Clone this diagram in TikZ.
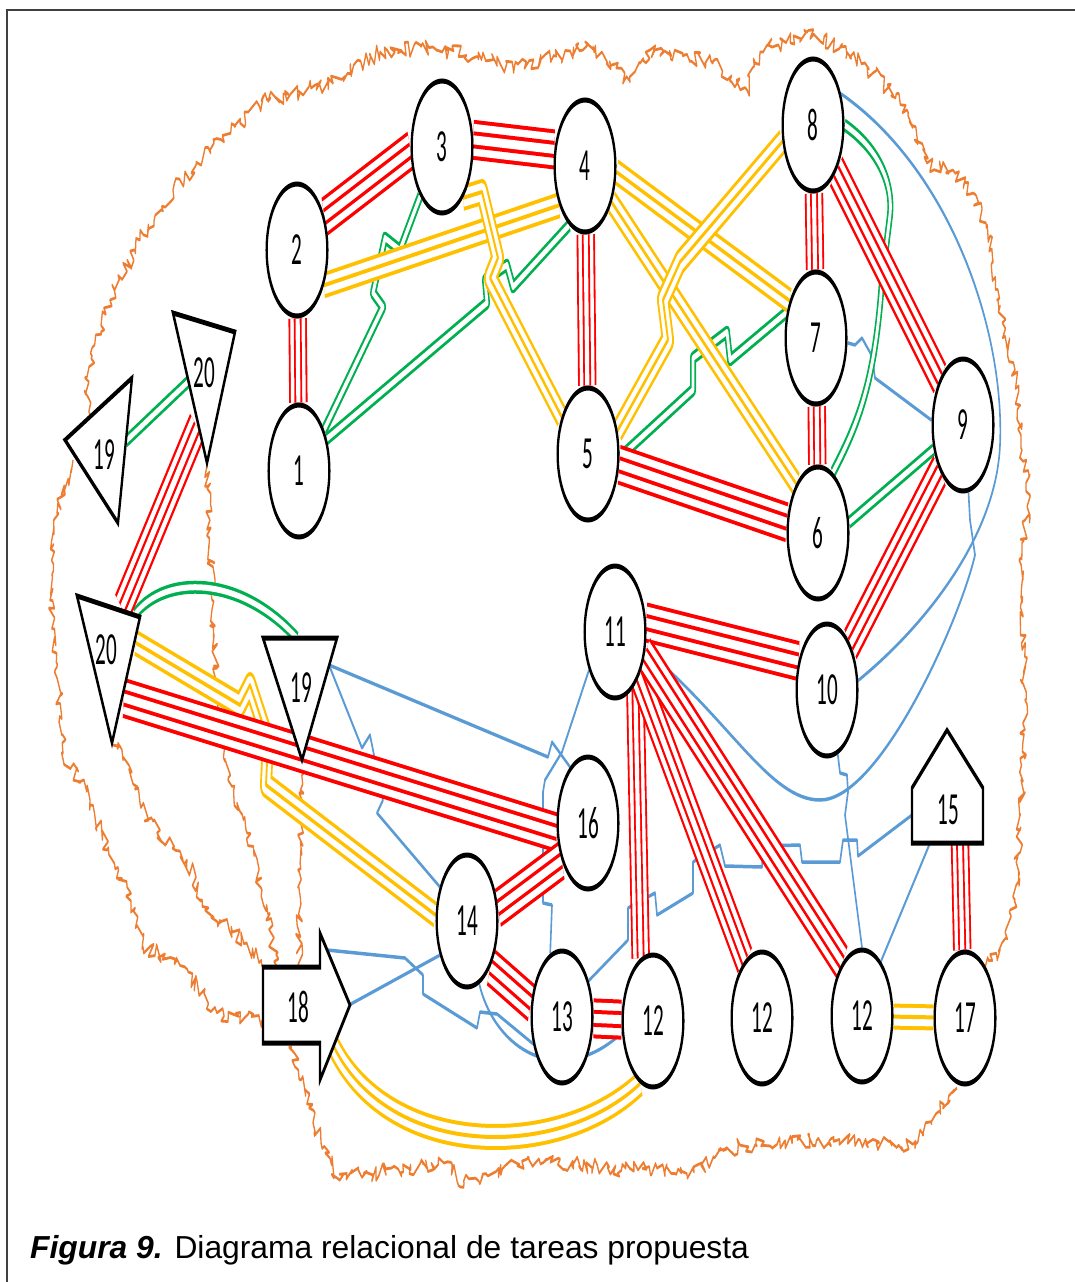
\documentclass[tikz,border=0pt]{standalone}
\usepackage{fontspec}
\newfontfamily\numfont{Carlito}
\newfontfamily\capfont{Liberation Sans}
\usetikzlibrary{backgrounds,decorations.pathmorphing}
\definecolor{cRed}{RGB}{255,0,0}
\definecolor{cYel}{RGB}{255,192,0}
\definecolor{cGrn}{RGB}{0,176,80}
\definecolor{cBlu}{RGB}{91,155,213}
\definecolor{cOrg}{RGB}{237,125,49}
\tikzset{
  nd/.style={circle,draw=black,line width=5pt,fill=white,minimum size=132pt,inner sep=0pt,
    font={\numfont\fontsize{46}{46}\selectfont}},
  lbl/.style={inner sep=0pt,font={\numfont\fontsize{46}{46}\selectfont}},
  shp/.style={draw=black,fill=white,line width=5pt,line join=miter},
  relA/.style={draw=cRed,line width=40pt,line join=round,
    postaction={draw=white,line width=32pt},
    postaction={draw=cRed,line width=17pt},
    postaction={draw=white,line width=9pt}},
  relI/.style={draw=cYel,line width=26pt,line join=round,
    postaction={draw=white,line width=18pt},
    postaction={draw=cYel,line width=4pt}},
  relO/.style={draw=cGrn,line width=13pt,line join=round,
    postaction={draw=white,line width=6pt}},
  relU/.style={draw=cBlu,line width=3.5pt,line join=round},
  orng/.style={draw=cOrg,line width=2.8pt,line join=round,decorate,
    decoration={random steps,segment length=5pt,amplitude=8pt}},
  sq/.style={transform canvas={xscale=0.46},x=2.173913pt}
}
\begin{document}
\begin{tikzpicture}[x=1pt,y=-1pt]
\pgfmathsetseed{7}
\useasboundingbox (0,0) rectangle (1075,1282);
\draw[line width=1.3pt,black!75] (7,1282) -- (7,10) -- (1075,10);
\node[anchor=base west,inner sep=0pt] (cap) at (30,1258)
  {\capfont\fontsize{31.8}{36}\selectfont\textbf{\textit{Figura 9.}} Diagrama relacional de tareas propuesta};

\begin{scope}[sq]
  \node[nd] (n1) at (299,471) {1};
  \node[nd] (n2) at (297,250) {2};
  \node[nd] (n3) at (442,147) {3};
  \node[nd] (n4) at (585,166) {4};
  \node[nd] (n5) at (588,454) {5};
  \node[nd] (n6) at (818,533) {6};
  \node[nd] (n7) at (816,338) {7};
  \node[nd] (n8) at (813,125) {8};
  \node[nd] (n9) at (963,425) {9};
  \node[nd] (n10) at (827,690) {10};
  \node[nd] (n11) at (615,632) {11};
  \node[nd] (n16) at (588,823) {16};
  \node[nd] (n14) at (467,921) {14};
  \node[nd] (n13) at (562,1017) {13};
  \node[nd] (n12a) at (653,1021) {12};
  \node[nd] (n12b) at (762,1018) {12};
  \node[nd] (n12c) at (862,1016) {12};
  \node[nd] (n17) at (965,1018) {17};
  % shapes
  \filldraw[shp] (65,440) -- (132,378) -- (118,523) -- cycle;
  \node[lbl] (t19a) at (104,455) {19};
  \filldraw[shp] (173,313) -- (235,332) -- (207,463) -- cycle;
  \node[lbl] (t20a) at (204,373) {20};
  \filldraw[shp] (77,596) -- (140,617) -- (112,743) -- cycle;
  \node[lbl] (t20b) at (106,650) {20};
  \filldraw[shp] (263,638) -- (337,638) -- (302,760) -- cycle;
  \node[lbl] (t19b) at (301,688) {19};
  \filldraw[shp] (912,788) -- (947,730) -- (983,788) -- (983,843) -- (912,843) -- cycle;
  \node[lbl] (t15) at (948,810) {15};
  \filldraw[shp] (263,967) -- (320,967) -- (320,933) -- (350,1005) -- (320,1080) -- (320,1043) -- (263,1043) -- cycle;
  \node[lbl] (t18) at (298,1007) {18};
  % connection points on the drawn shapes
  \coordinate (c19a-g) at (126,441);
  \coordinate (c20a-g) at (188,382);
  \coordinate (c20a-r) at (197,427);
  \coordinate (c20b-r) at (122,608);
  \coordinate (c20b-g) at (135,614);
  \coordinate (c19b-g) at (297,638);
  \coordinate (c20b-y) at (136,643);
  \coordinate (c20b-rr) at (124,698);
  \coordinate (c19b-b) at (329,665);
  \coordinate (c18-tip) at (349,1005);
  \coordinate (c18-top) at (327,950);
  \coordinate (c18-y) at (334,1047);
  \coordinate (c15-l) at (912,815);
  \coordinate (c15-b) at (930,843);
  \coordinate (c15-r) at (960,843);
\end{scope}

\begin{pgfonlayer}{background}
\begin{scope}[sq]
  % orange boundary
  \draw[orng] (90,415) -- (87,377) -- (110,300) -- (140,240) -- (173,190) -- (210,150) -- (240,123) -- (267,100) -- (333,83) -- (380,52) -- (433,47) -- (513,67) -- (593,47) -- (630,82) -- (650,50) -- (713,63) -- (747,90) -- (760,52) -- (807,32) -- (840,47) -- (873,73) -- (907,110) -- (927,163) -- (953,170) -- (973,193) -- (987,227) -- (997,300) -- (1015,370) -- (1022,450) -- (1030,495) -- (1020,560) -- (1025,700) -- (1020,830) -- (1015,900) -- (1000,950) -- (985,968);
  \draw[orng] (957,1088) -- (920,1130) -- (915,1148) -- (860,1140) -- (740,1145) -- (694,1172) -- (638,1170) -- (525,1160) -- (464,1183) -- (444,1163) -- (337,1178) -- (321,1143) -- (301,1080) -- (292,1047);
  \draw[orng] (302,762) -- (302,800) -- (298,870) -- (300,967);
  \draw[orng] (207,465) -- (210,520) -- (212,600) -- (216,680) -- (228,780) -- (247,833) -- (262,890) -- (277,967);
  \draw[orng] (113,745) -- (123,760) -- (140,803) -- (157,833) -- (187,860) -- (200,900) -- (220,920) -- (247,943) -- (262,967);
  \draw[orng] (73,460) -- (57,513) -- (50,600) -- (57,667) -- (63,753) -- (90,800) -- (107,850) -- (127,887) -- (143,947) -- (177,960) -- (217,1013) -- (262,1020);
  % blue (U)
  \draw[relU] (c19b-b) -- (548,757) -- (552,742) -- (n16.125);
  \draw[relU] (c19b-b) -- (362,748) -- (370,735) -- (383,800) -- (377,813) -- (n14.150);
  \draw[relU] (n11.214) -- (562,752) -- (545,780) -- (543,792) -- (543,903) -- (552,905) -- (n13.112);
  \draw[relU] (c18-tip) -- (n14.210);
  \draw[relU] (c18-top) -- (405,958) -- (423,975) -- (423,994) -- (477,1028) -- (480,1012) -- (497,1014) -- (n13.203);
  \draw[relU] (n14.-67) .. controls (495,1050) and (560,1090) .. (n12a.190);
  \draw[relU] (n13.32) -- (628,940) -- (628,908) -- (655,893) -- (657,915) -- (693,893) -- (693,862) -- (720,845) -- (725,866) -- (762,867) -- (763,846) -- (800,845) -- (802,862) -- (840,862) -- (843,840) -- (857,840) -- (858,856) -- (c15-l);
  \draw[relU] (n10.-70) -- (840,773) -- (847,775) -- (848,792) -- (845,815) -- (n12c.90);
  \draw[relU] (c15-b) -- (n12c.53);
  \draw[relU] (n7.-4) -- (855,345) -- (862,338) -- (872,356) -- (875,378) -- (n9.176);
  \draw[relU] (n8.27) .. controls (950,170) and (1005,330) .. (1000,445) .. controls (996,540) and (920,630) .. (n10.8);
  \draw[relU] (n11.-15) .. controls (730,720) and (770,800) .. (820,800) .. controls (880,800) and (960,620) .. (975,555) -- (970,520) -- (n9.-80);
  % green (O)
  \draw[relO] (n3.226) -- (400,250) -- (385,238) -- (373,293) -- (383,307) -- (n1.37);
  \draw[relO] (n4.240) -- (513,287) -- (507,265) -- (485,280) -- (487,303) -- (n1.28);
  \draw[relO] (c19a-g) -- (c20a-g);
  \draw[relO] (c20b-g) .. controls (165,575) and (240,575) .. (c19b-g);
  \draw[relO] (n5.-3) -- (693,390) -- (693,358) -- (727,332) -- (730,360) -- (n7.158);
  \draw[relO] (n8.0) .. controls (880,150) and (893,185) .. (890,215) -- (882,280) .. controls (875,380) and (860,420) .. (n6.62);
  \draw[relO] (n6.9) -- (n9.201);
  % yellow (I)
  \draw[relI] (n2.-31) -- (n4.215);
  \draw[relI] (n3.-48) -- (482,192) -- (498,258) -- (490,278) -- (n5.147);
  \draw[relI] (n4.-5) -- (n7.147);
  \draw[relI] (n4.-32) -- (n6.134);
  \draw[relI] (n8.194) -- (680,262) -- (663,300) -- (668,340) -- (n5.20);
  \draw[relI] (c20b-y) -- (240,705) -- (250,685) -- (268,740) -- (266,785) -- (n14.175);
  \draw[relI] (c18-y) .. controls (390,1160) and (560,1160) .. (n12a.246);
  \draw[relI] (n12c) -- (n17);
  % red (A)
  \draw[relA] (n2.29) -- (n3.183);
  \draw[relA] (n3.6) -- (n4.166);
  \draw[relA] (n2) -- (n1);
  \draw[relA] (n4) -- (n5);
  \draw[relA] (n8) -- (n7);
  \draw[relA] (n7) -- (n6);
  \draw[relA] (n8) -- (n9);
  \draw[relA] (n5) -- (n6);
  \draw[relA] (n9) -- (n10);
  \draw[relA] (n11.8) -- (n10.155);
  \draw[relA] (n11.-50) -- (n12a.113);
  \draw[relA] (n11.-40) -- (n12b.123);
  \draw[relA] (n11.-19) -- (n12c.129);
  \draw[relA] (c20a-r) -- (c20b-r);
  \draw[relA] (c20b-rr) -- (n16.188);
  \draw[relA] (n16.213) -- (n14.11);
  \draw[relA] (n14.-42) -- (n13.168);
  \draw[relA] (n13) -- (n12a);
  \draw[relA] (c15-r) -- (n17.95);
\end{scope}
\end{pgfonlayer}
\end{tikzpicture}
\end{document}
